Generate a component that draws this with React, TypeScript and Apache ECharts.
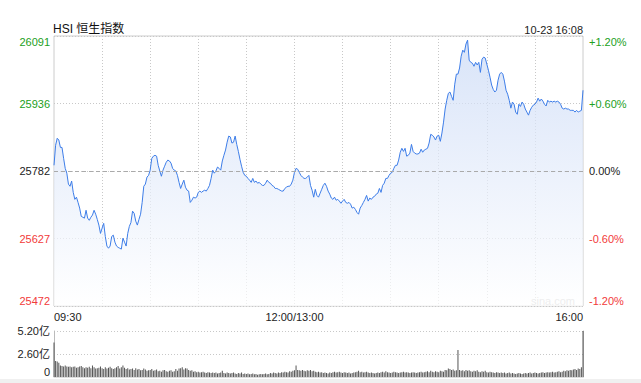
import React, { useEffect, useRef } from 'react';
import * as echarts from 'echarts';

const titleText = 'HSI 恒生指数';
const timeText = '10-23 16:08';
const watermark = 'sina.com';
const prevClose = 25782;

const leftTickLabels = ['25472', '25627', '25782', '25936', '26091'];
const rightTickLabels = ['-1.20%', '-0.60%', '0.00%', '+0.60%', '+1.20%'];
const xTickLabels = ['09:30', '12:00/13:00', '16:00'];
const xTickIndex = [0, 150, 330];
const volTickLabels = ['0', '2.60亿', '5.20亿'];

const priceValues = [
  25795, 25841, 25857, 25853, 25836, 25836, 25811, 25788, 25777, 25752,
  25747, 25759, 25733, 25717, 25722, 25710, 25697, 25678, 25676, 25674,
  25692, 25674, 25669, 25676, 25681, 25692, 25683, 25671, 25658, 25639,
  25651, 25662, 25632, 25610, 25605, 25610, 25632, 25635, 25619, 25610,
  25607, 25605, 25603, 25628, 25619, 25610, 25639, 25655, 25664, 25690,
  25685, 25667, 25658, 25671, 25683, 25710, 25747, 25752, 25768, 25772,
  25784, 25811, 25816, 25818, 25816, 25795, 25782, 25770, 25784, 25793,
  25802, 25807, 25805, 25800, 25788, 25784, 25782, 25772, 25756, 25742,
  25752, 25761, 25745, 25738, 25736, 25710, 25715, 25722, 25720, 25722,
  25733, 25736, 25733, 25736, 25738, 25736, 25742, 25749, 25765, 25784,
  25777, 25782, 25791, 25788, 25784, 25805, 25818, 25830, 25848, 25862,
  25860, 25846, 25848, 25862, 25843, 25827, 25809, 25793, 25779, 25772,
  25770, 25765, 25761, 25756, 25765, 25756, 25759, 25754, 25756, 25752,
  25749, 25749, 25754, 25761, 25756, 25754, 25749, 25747, 25742, 25742,
  25740, 25738, 25736, 25736, 25742, 25745, 25747, 25747, 25752, 25761,
  25779, 25788, 25786, 25779, 25772, 25768, 25765, 25765, 25768, 25772,
  25749, 25738, 25722, 25740, 25726, 25722, 25731, 25740, 25749, 25754,
  25747, 25736, 25729, 25720, 25717, 25722, 25715, 25717, 25713, 25708,
  25713, 25717, 25710, 25708, 25710, 25706, 25697, 25699, 25694, 25687,
  25683, 25697, 25703, 25710, 25717, 25726, 25713, 25720, 25717, 25722,
  25724, 25729, 25731, 25742, 25733, 25749, 25754, 25765, 25765, 25772,
  25777, 25779, 25788, 25795, 25795, 25807, 25825, 25834, 25827, 25834,
  25816, 25818, 25823, 25843, 25827, 25823, 25821, 25821, 25823, 25832,
  25825, 25830, 25832, 25834, 25846, 25866, 25864, 25860, 25853, 25862,
  25864, 25850, 25869, 25894, 25924, 25944, 25960, 25963, 25953, 25944,
  25981, 26004, 26004, 26018, 26045, 26059, 26054, 26073, 26082, 26036,
  26031, 26029, 26022, 26031, 26025, 26031, 26008, 26038, 26043, 26041,
  26027, 26013, 25997, 25979, 25969, 25963, 25967, 25990, 26004, 26008,
  26004, 25988, 25967, 25958, 25944, 25926, 25940, 25935, 25917, 25912,
  25935, 25930, 25940, 25935, 25924, 25917, 25910, 25921, 25928, 25933,
  25935, 25940, 25949, 25942, 25947, 25942, 25935, 25931, 25944, 25940,
  25942, 25940, 25942, 25940, 25942, 25940, 25935, 25926, 25924, 25926,
  25924, 25924, 25921, 25921, 25921, 25917, 25921, 25917, 25919, 25921,
  25967,
];

const volumeValues = [
  3.9, 1.8, 1.75, 1.6, 1.3, 1.25, 1.2, 1.3, 1.2, 1.15,
  1.2, 1.1, 1.15, 1.2, 1.05, 1.1, 1.2, 1.25, 1.1, 1.0,
  1.1, 1.05, 1.15, 1.0, 1.3, 1.1, 0.95, 1.0, 1.05, 1.2,
  1.0, 0.9, 1.1, 0.95, 1.05, 1.15, 1.0, 0.9, 1.0, 1.1,
  1.25, 0.95, 1.1, 1.3, 1.05, 0.9, 1.0, 0.85, 0.9, 0.95,
  0.8, 1.0, 0.85, 0.9, 0.75, 0.8, 0.95, 0.85, 0.7, 0.75,
  0.8, 0.9, 0.7, 0.75, 0.85, 0.65, 0.7, 0.6, 0.75, 0.8,
  0.65, 0.6, 0.7, 0.75, 0.6, 0.65, 0.9, 0.7, 0.95, 1.0,
  1.1, 0.85, 1.0, 0.95, 0.8, 0.7, 0.75, 0.6, 0.65, 0.55,
  0.6, 0.5, 0.55, 0.6, 0.5, 0.45, 0.55, 0.5, 0.45, 0.5,
  0.45, 0.5, 0.4, 0.45, 0.5, 0.7, 0.45, 0.4, 0.5, 0.45,
  0.4, 0.45, 0.5, 0.4, 0.35, 0.45, 0.4, 0.5, 0.35, 0.4,
  0.35, 0.4, 0.3, 0.35, 0.4, 0.3, 0.35, 0.25, 0.3, 0.35,
  0.3, 0.35, 0.4, 0.3, 0.35, 0.45, 0.4, 0.5, 0.45, 0.4,
  0.5, 0.45, 0.55, 0.5, 0.6, 0.55, 0.5, 0.65, 0.6, 0.7,
  0.75, 1.3, 0.8, 0.75, 0.7, 0.8, 0.7, 0.65, 0.75, 0.7,
  0.8, 0.65, 0.7, 0.6, 0.55, 0.6, 0.5, 0.55, 0.45, 0.5,
  0.45, 0.4, 0.5, 0.45, 0.55, 0.6, 0.5, 0.55, 0.6, 0.5,
  0.45, 0.55, 0.5, 0.45, 0.5, 0.4, 0.45, 0.5, 0.55, 0.6,
  0.7, 0.55, 0.6, 0.5, 0.55, 0.6, 0.5, 0.45, 0.5, 0.45,
  0.4, 0.45, 0.5, 0.45, 0.55, 0.6, 0.5, 0.65, 0.55, 0.5,
  0.45, 0.5, 0.6, 0.55, 0.5, 0.45, 0.5, 0.55, 0.6, 0.5,
  0.55, 0.5, 0.45, 0.5, 0.55, 0.5, 0.45, 0.5, 0.55, 0.6,
  0.5, 0.55, 0.6, 0.65, 0.55, 0.7, 0.6, 0.55, 0.65, 0.6,
  0.55, 0.7, 0.65, 0.6, 0.8, 0.75, 0.95, 0.9, 0.8, 0.85,
  0.7, 0.75, 3.05, 0.8, 0.7, 0.75, 0.65, 0.8, 0.7, 0.75,
  0.65, 0.6, 0.7, 0.65, 0.75, 0.6, 0.55, 0.65, 0.6, 0.7,
  0.55, 0.5, 0.6, 0.55, 0.5, 0.45, 0.55, 0.5, 0.45, 0.5,
  0.45, 0.5, 0.4, 0.45, 0.5, 0.4, 0.45, 0.4, 0.35, 0.4,
  0.45, 0.4, 0.35, 0.4, 0.45, 0.4, 0.45, 0.5, 0.4, 0.45,
  0.5, 0.45, 0.4, 0.45, 0.5, 0.55, 0.45, 0.5, 0.55, 0.5,
  0.55, 0.6, 0.5, 0.55, 0.6, 0.65, 0.55, 0.6, 0.7, 0.65,
  0.75, 0.7, 0.8, 0.75, 0.85, 0.9, 0.8, 0.95, 0.9, 1.1,
  5.2,
];

function pad(n: number) {
  return n < 10 ? '0' + n : String(n);
}

function buildTimes(): string[] {
  const out: string[] = [];
  for (let m = 9 * 60 + 30; m <= 12 * 60; m++) out.push(pad(Math.floor(m / 60)) + ':' + pad(m % 60));
  for (let m = 13 * 60 + 1; m <= 16 * 60; m++) out.push(pad(Math.floor(m / 60)) + ':' + pad(m % 60));
  return out;
}

const FONT = '"Liberation Sans", Arial, "Noto Sans CJK SC", sans-serif';

export default function App() {
  const ref = useRef<HTMLDivElement>(null);

  useEffect(() => {
    if (!ref.current) return;
    const chart = echarts.init(ref.current, null, { renderer: 'svg' });
    const times = buildTimes();
    const pct = priceValues.map((v) => ((v - prevClose) / prevClose) * 100);
    const colorFor = (v: number) => (v > 1e-6 ? '#22a022' : v < -1e-6 ? '#f23a3a' : '#222');

    chart.setOption({
      animation: false,
      textStyle: { fontFamily: FONT },
      title: [
        {
          text: titleText,
          left: 53,
          top: 23,
          padding: 0,
          textStyle: { fontSize: 12, fontWeight: 'normal', color: '#111', fontFamily: FONT },
        },
        {
          text: timeText,
          right: 58,
          top: 24,
          padding: 0,
          textStyle: { fontSize: 11, fontWeight: 'normal', color: '#222', fontFamily: FONT },
        },
      ],
      graphic: [
        {
          type: 'text',
          left: 531,
          top: 295,
          silent: true,
          style: { text: watermark, fill: '#c4c4c4', font: '11px ' + FONT },
        },
        {
          type: 'rect',
          silent: true,
          shape: { x: 0, y: 379, width: 641, height: 4 },
          style: { fill: '#f0f0f0' },
        },
      ],
      grid: [
        { left: 54, right: 58, top: 36, height: 270, show: true, borderColor: '#ccc', borderWidth: 1 },
        { left: 54, right: 58, top: 331, height: 46 },
      ],
      xAxis: [
        {
          type: 'category',
          gridIndex: 0,
          data: times,
          boundaryGap: false,
          axisLine: { show: false },
          axisTick: { show: false },
          axisLabel: {
            interval: (i: number) => xTickIndex.indexOf(i) >= 0,
            formatter: (_v: string, i: number) => xTickLabels[xTickIndex.indexOf(i)] ?? '',
            color: '#222',
            fontSize: 11,
            margin: 5,
            fontFamily: FONT,
            alignMinLabel: 'left',
            alignMaxLabel: 'right',
          },
          splitLine: {
            show: true,
            interval: (i: number) => i % 30 === 0 && i > 0 && i < 330,
            lineStyle: { color: '#c8c8c8', type: [1, 2] },
          },
        },
        {
          type: 'category',
          gridIndex: 1,
          data: times,
          boundaryGap: false,
          axisLine: { show: true, lineStyle: { color: '#ddd' } },
          axisTick: { show: false },
          axisLabel: { show: false },
          splitLine: { show: false },
        },
      ],
      yAxis: [
        {
          type: 'value',
          gridIndex: 0,
          min: -1.2,
          max: 1.2,
          interval: 0.6,
          position: 'left',
          axisLine: { show: false },
          axisTick: { show: false },
          axisLabel: {
            formatter: (_v: number, i: number) => leftTickLabels[i],
            color: (v: any) => colorFor(Number(v)),
            fontSize: 11,
            margin: 4,
            fontFamily: FONT,
            verticalAlignMinLabel: 'bottom',
            verticalAlignMaxLabel: 'top',
          },
          splitLine: { show: true, lineStyle: { color: '#c8c8c8', type: [1, 2] } },
        },
        {
          type: 'value',
          gridIndex: 0,
          min: -1.2,
          max: 1.2,
          interval: 0.6,
          position: 'right',
          axisLine: { show: false },
          axisTick: { show: false },
          axisLabel: {
            formatter: (_v: number, i: number) => rightTickLabels[i],
            color: (v: any) => colorFor(Number(v)),
            fontSize: 11,
            margin: 6,
            fontFamily: FONT,
            verticalAlignMinLabel: 'bottom',
            verticalAlignMaxLabel: 'top',
          },
          splitLine: { show: false },
        },
        {
          type: 'value',
          gridIndex: 1,
          min: 0,
          max: 5.2,
          interval: 2.6,
          position: 'left',
          axisLine: { show: true, lineStyle: { color: '#bbb' } },
          axisTick: { show: false },
          axisLabel: {
            formatter: (_v: number, i: number) => volTickLabels[i],
            color: '#222',
            fontSize: 11,
            margin: 4,
            fontFamily: FONT,
            verticalAlignMinLabel: 'bottom',
          },
          splitLine: { show: true, lineStyle: { color: '#c8c8c8', type: [1, 2] } },
        },
        {
          type: 'value',
          gridIndex: 1,
          min: 0,
          max: 5.2,
          interval: 2.6,
          position: 'right',
          axisLine: { show: true, lineStyle: { color: '#bbb' } },
          axisTick: { show: false },
          axisLabel: { show: false },
          splitLine: { show: false },
        },
      ],
      series: [
        {
          type: 'line',
          xAxisIndex: 0,
          yAxisIndex: 0,
          data: pct,
          symbol: 'none',
          lineStyle: { color: '#3d7de8', width: 1 },
          areaStyle: {
            origin: 'start',
            color: new echarts.graphic.LinearGradient(0, 0, 0, 1, [
              { offset: 0, color: '#c9d9f6' },
              { offset: 1, color: '#ffffff' },
            ]),
          },
          markLine: {
            silent: true,
            symbol: ['none', 'none'],
            label: { show: false },
            lineStyle: { color: '#aaa', type: [4, 3], width: 1 },
            data: [{ yAxis: 0 }],
          },
        },
        {
          type: 'bar',
          xAxisIndex: 1,
          yAxisIndex: 2,
          data: volumeValues,
          barWidth: 1,
          itemStyle: { color: '#555' },
        },
      ],
    });

    return () => chart.dispose();
  }, []);

  return (
    <div
      ref={ref}
      style={{ position: 'fixed', left: 0, top: 0, width: 641, height: 383, background: '#fff' }}
    />
  );
}
